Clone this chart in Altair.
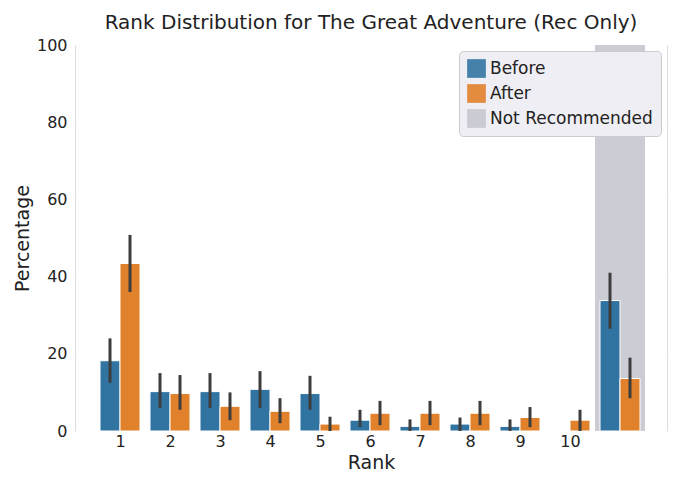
import altair as alt
import pandas as pd

ranks = [1, 2, 3, 4, 5, 6, 7, 8, 9, 10, 11]
before = [18.2, 10.2, 10.2, 10.8, 9.7, 2.8, 1.2, 1.8, 1.2, 0.0, 33.8]
before_lo = [12.5, 6.0, 6.0, 6.0, 5.5, 1.0, 0.0, 0.0, 0.0, 0.0, 26.5]
before_hi = [24.0, 15.0, 15.0, 15.5, 14.3, 5.5, 3.0, 3.5, 3.0, 0.0, 41.0]
after = [43.4, 9.7, 6.4, 5.1, 1.8, 4.6, 4.6, 4.6, 3.5, 2.8, 13.6]
after_lo = [36.0, 5.5, 2.8, 2.0, 0.0, 1.5, 1.5, 1.5, 1.0, 0.0, 8.5]
after_hi = [50.8, 14.5, 10.0, 8.5, 3.7, 7.8, 7.8, 7.8, 6.2, 5.5, 19.0]

rows = []
for i, r in enumerate(ranks):
    rows.append({"grp": "Before", "x0": r - 0.4, "x1": r, "xc": r - 0.2,
                 "v": before[i], "lo": before_lo[i], "hi": before_hi[i]})
    rows.append({"grp": "After", "x0": r, "x1": r + 0.4, "xc": r + 0.2,
                 "v": after[i], "lo": after_lo[i], "hi": after_hi[i]})
df = pd.DataFrame(rows)
band = pd.DataFrame({"grp": ["Not Recommended"], "x0": [10.5], "x1": [11.5]})

color = alt.Color("grp:N", title=None,
                  scale=alt.Scale(domain=["Before", "After", "Not Recommended"],
                                  range=["#3274a1", "#e1812c", "#c6c6cf"]),
                  legend=alt.Legend(orient="top-right", symbolType="square",
                                    symbolSize=350, labelFontSize=17, labelLimit=400,
                                    labelColor="#222", rowPadding=6,
                                    fillColor="#eeeef4", strokeColor="#cccccc",
                                    padding=8, cornerRadius=4, offset=6,
                                    symbolStrokeWidth=0))

xs = alt.Scale(domain=[0.1, 11.94], nice=False, zero=False)
ys = alt.Scale(domain=[0, 100], nice=False)

shade = alt.Chart(band).mark_rect(opacity=0.9).encode(
    x=alt.X("x0:Q", scale=xs, title="Rank",
            axis=alt.Axis(values=list(range(1, 11)), grid=False, ticks=False,
                          labelFontSize=16, titleFontSize=19, titleFontWeight="normal",
                          domain=False, labelColor="#222", titleColor="#222")),
    x2="x1:Q",
    y=alt.value(0), y2=alt.value(386),
    color=color,
)

bars = alt.Chart(df).mark_bar(stroke="white", strokeWidth=1).encode(
    x=alt.X("x0:Q", scale=xs),
    x2="x1:Q",
    y=alt.Y("v:Q", scale=ys, title="Percentage",
            axis=alt.Axis(values=[0, 20, 40, 60, 80, 100], gridColor="white",
                          gridWidth=1, ticks=False, domain=False, labelFontSize=16,
                          titleFontSize=19, titleFontWeight="normal",
                          labelColor="#222", titleColor="#222", labelPadding=8)),
    y2=alt.datum(0),
    color=color,
)

err = alt.Chart(df).mark_rule(color="#3d3d3d", strokeWidth=3).encode(
    x=alt.X("xc:Q", scale=xs), y="lo:Q", y2="hi:Q"
)

chart = alt.layer(shade, bars, err).properties(
    width=592, height=386,
    title=alt.TitleParams("Rank Distribution for The Great Adventure (Rec Only)",
                          fontSize=20, fontWeight="normal", color="#222"),
).configure_view(fill="#eaeaf2", stroke="transparent").configure(font="DejaVu Sans")

chart.save("out.html", embed_options={"renderer": "svg", "actions": False})
